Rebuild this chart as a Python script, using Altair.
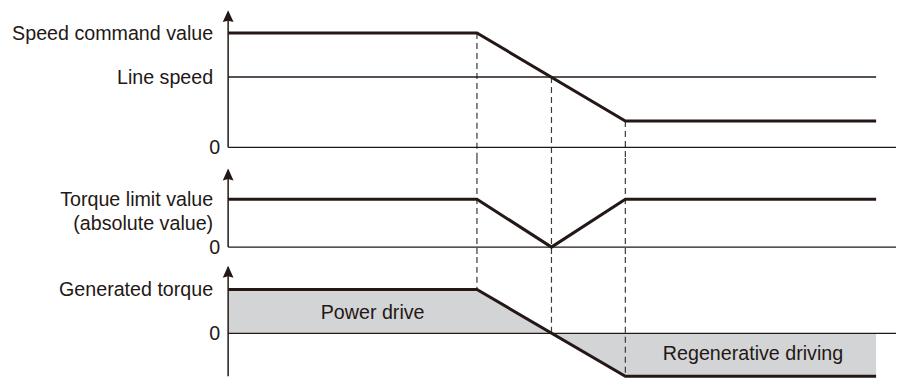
import altair as alt
import pandas as pd

INK = "#231815"
DASH = "#3a3a3a"
FILL = "#d3d4d5"
FONT = "Liberation Sans"
FS = 19.7

# time axis (arbitrary units)
X_MAX = 103.07
t_events = [38.4, 49.9, 61.3]

# panel 1: speed
speed_t = [0, 38.4, 61.3, 100]
speed_v = [100, 100, 23, 23]
line_speed_v = 61.5
line_speed_t = [0, 100]
top_dom = [-9.4, 121.6]
top_arrow = 120
top_labels = ["Speed command value", "Line speed"]
top_label_v = [100, 61.5]
top_dash_from = [100, 61.5, 23]

# panel 2: torque limit
limit_t = [0, 38.4, 49.9, 61.3, 100]
limit_v = [100, 100, 0, 100, 100]
mid_dom = [-20.4, 185.7]
mid_arrow = 164
mid_labels = ["Torque limit value\n(absolute value)"]
mid_label_v = [100]

# panel 3: generated torque
gen_t = [0, 38.4, 61.3, 100]
gen_v = [100, 100, -98, -98]
bot_dom = [-98.9, 174.4]
bot_arrow = 154
bot_axis_low = -98
bot_labels = ["Generated torque"]
bot_label_v = [100]
bot_dash_to = [100, 0, -98]
region_labels = ["Power drive", "Regenerative driving"]
region_t = [22.3, 81.0]
region_v = [45.6, -47.8]

W = 669
H1, H2, H3 = 150, 99, 120

ARROW = "M0,0L0.9,2L0,1.75L-0.9,2Z"


def X(field="t"):
    return alt.X(f"{field}:Q", scale=alt.Scale(domain=[0, X_MAX], nice=False, zero=False), axis=None)


def Y(dom, field="v"):
    return alt.Y(f"{field}:Q", scale=alt.Scale(domain=dom, nice=False, zero=False), axis=None)


def common(dom, arrow_v, axis_low, labels, label_v, dash_df):
    zero = alt.Chart(pd.DataFrame({"v": [0]})).mark_rule(color=INK, strokeWidth=1.3).encode(y=Y(dom))
    dashed = alt.Chart(dash_df).mark_rule(color=DASH, strokeWidth=1.2, strokeDash=[6, 4]).encode(
        x=X(), y=Y(dom), y2="v2:Q")
    axis = alt.Chart(pd.DataFrame({"t": [0], "v": [axis_low], "v2": [arrow_v - 3]})).mark_rule(
        color=INK, strokeWidth=1.5).encode(x=X(), y=Y(dom), y2="v2:Q")
    arrow = alt.Chart(pd.DataFrame({"t": [0], "v": [arrow_v]})).mark_point(
        shape=ARROW, filled=True, size=144, color=INK, opacity=1, strokeWidth=0).encode(x=X(), y=Y(dom))
    lab = alt.Chart(pd.DataFrame({"t": [0] * len(labels), "v": label_v, "txt": labels})).mark_text(
        align="right", baseline="alphabetic", dx=-15, dy=7, fontSize=FS, font=FONT, color=INK,
        lineBreak="\n", lineHeight=23.5).encode(x=X(), y=Y(dom), text="txt:N")
    zlab = alt.Chart(pd.DataFrame({"t": [0], "v": [0], "txt": ["0"]})).mark_text(
        align="right", baseline="alphabetic", dx=-8, dy=7, fontSize=FS, font=FONT, color=INK).encode(
        x=X(), y=Y(dom), text="txt:N")
    return zero, dashed, axis, arrow, lab, zlab


# --- top panel
top_dash = pd.DataFrame({"t": t_events, "v": top_dash_from, "v2": [top_dom[0]] * 3})
z1, d1, a1, ar1, l1, zl1 = common(top_dom, top_arrow, 0, top_labels, top_label_v, top_dash)
ls = alt.Chart(pd.DataFrame({"t": [line_speed_t[0]], "t2": [line_speed_t[1]], "v": [line_speed_v]})).mark_rule(
    color=INK, strokeWidth=1.3).encode(x=X(), x2="t2:Q", y=Y(top_dom))
sp = alt.Chart(pd.DataFrame({"t": speed_t, "v": speed_v})).mark_line(color=INK, strokeWidth=3).encode(
    x=X(), y=Y(top_dom))
top = alt.layer(d1, z1, ls, sp, a1, ar1, l1, zl1).properties(width=W, height=H1)

# --- middle panel
mid_dash = pd.DataFrame({"t": t_events, "v": [mid_dom[1]] * 3, "v2": [mid_dom[0]] * 3})
z2, d2, a2, ar2, l2, zl2 = common(mid_dom, mid_arrow, 0, mid_labels, mid_label_v, mid_dash)
lim = alt.Chart(pd.DataFrame({"t": limit_t, "v": limit_v})).mark_line(color=INK, strokeWidth=3).encode(
    x=X(), y=Y(mid_dom))
mid = alt.layer(d2, z2, lim, a2, ar2, l2, zl2).properties(width=W, height=H2)

# --- bottom panel
bot_dash = pd.DataFrame({"t": t_events, "v": [bot_dom[1]] * 3, "v2": bot_dash_to})
z3, d3, a3, ar3, l3, zl3 = common(bot_dom, bot_arrow, bot_axis_low, bot_labels, bot_label_v, bot_dash)
gdf = pd.DataFrame({"t": gen_t, "v": gen_v, "z": [0] * len(gen_t)})
area = alt.Chart(gdf).mark_area(color=FILL, opacity=1).encode(x=X(), y=Y(bot_dom), y2="z:Q")
gl = alt.Chart(gdf).mark_line(color=INK, strokeWidth=3).encode(x=X(), y=Y(bot_dom))
reg = alt.Chart(pd.DataFrame({"t": region_t, "v": region_v, "txt": region_labels})).mark_text(
    align="center", baseline="middle", fontSize=FS, font=FONT, color=INK).encode(
    x=X(), y=Y(bot_dom), text="txt:N")
bot = alt.layer(area, d3, z3, gl, a3, ar3, reg, l3, zl3).properties(width=W, height=H3)

chart = alt.vconcat(top, mid, bot, spacing=0, bounds="flush").resolve_scale(
    y="independent").properties(
    padding={"left": 3.5, "top": 0, "right": 0, "bottom": 0},
    background="white",
).configure_view(stroke=None)

chart.save("out.html", embed_options={"renderer": "svg", "actions": False})
